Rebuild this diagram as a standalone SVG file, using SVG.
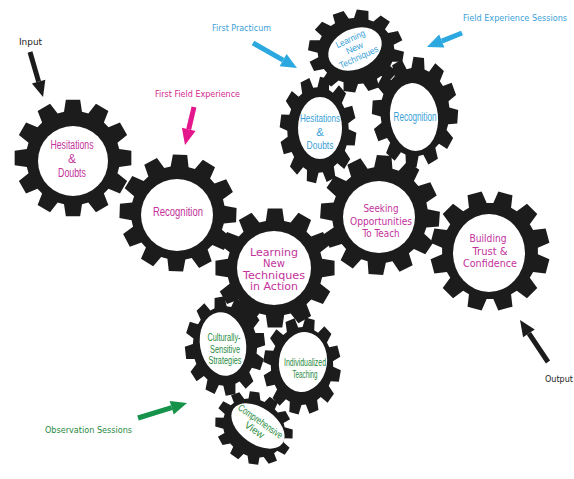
<svg xmlns="http://www.w3.org/2000/svg" xmlns:xlink="http://www.w3.org/1999/xlink" width="574" height="479" viewBox="0 0 574 479">
<style>
.gear{fill:#1c1c1c}
.face{fill:#ffffff}
.nar{font-family:"Liberation Sans Narrow","Liberation Sans",Arial,sans-serif;text-anchor:middle}
.ver{font-family:"DejaVu Sans",Verdana,sans-serif;text-anchor:middle}
.lab{font-family:"DejaVu Sans",Verdana,sans-serif;font-size:8.5px}
.pink{fill:#c4329c}
.blue{fill:#3a9fd8}
.green{fill:#1f8a3e}
.arrow{stroke-width:5;fill:none}
</style>
<defs>
<polygon id="g" points="47.12,-9.16 59.55,-7.31 59.55,7.31 47.12,9.16 45.38,15.63 55.23,23.44 47.92,36.11 36.23,31.49 31.49,36.23 36.11,47.92 23.44,55.23 15.63,45.38 9.16,47.12 7.31,59.55 -7.31,59.55 -9.16,47.12 -15.63,45.38 -23.44,55.23 -36.11,47.92 -31.49,36.23 -36.23,31.49 -47.92,36.11 -55.23,23.44 -45.38,15.63 -47.12,9.16 -59.55,7.31 -59.55,-7.31 -47.12,-9.16 -45.38,-15.63 -55.23,-23.44 -47.92,-36.11 -36.23,-31.49 -31.49,-36.23 -36.11,-47.92 -23.44,-55.23 -15.63,-45.38 -9.16,-47.12 -7.31,-59.55 7.31,-59.55 9.16,-47.12 15.63,-45.38 23.44,-55.23 36.11,-47.92 31.49,-36.23 36.23,-31.49 47.92,-36.11 55.23,-23.44 45.38,-15.63"/>
<marker id="mk" markerUnits="userSpaceOnUse" markerWidth="16" markerHeight="14" refX="0" refY="7" orient="auto" overflow="visible"><path d="M0,0 L16,7 L0,14 z" fill="#1c1c1c"/></marker>
<marker id="mm" markerUnits="userSpaceOnUse" markerWidth="16" markerHeight="14" refX="0" refY="7" orient="auto" overflow="visible"><path d="M0,0 L16,7 L0,14 z" fill="#e3168b"/></marker>
<marker id="mb" markerUnits="userSpaceOnUse" markerWidth="16" markerHeight="14" refX="0" refY="7" orient="auto" overflow="visible"><path d="M0,0 L16,7 L0,14 z" fill="#2ba8df"/></marker>
<marker id="mg" markerUnits="userSpaceOnUse" markerWidth="16" markerHeight="14" refX="0" refY="7" orient="auto" overflow="visible"><path d="M0,0 L16,7 L0,14 z" fill="#15934a"/></marker>
</defs>

<g id="blue-learning-new-techniques">
<use xlink:href="#g" class="gear" transform="translate(356,51) scale(0.8,0.69) rotate(8)"/>
<ellipse class="face" cx="355" cy="49" rx="28" ry="20" transform="rotate(-25 355 49)"/>
<g transform="translate(355,49) rotate(-25)" class="nar blue" font-size="9">
<text x="0" y="-8" textLength="31" lengthAdjust="spacingAndGlyphs">Learning</text>
<text x="0" y="2">New</text>
<text x="0" y="12" textLength="42" lengthAdjust="spacingAndGlyphs">Techniques</text>
</g>
</g>

<g id="blue-hesitations-doubts">
<use xlink:href="#g" class="gear" transform="translate(318,130) scale(0.64,0.89) rotate(10)"/>
<ellipse class="face" cx="320" cy="128" rx="22" ry="31"/>
<g class="nar blue" font-size="11.5">
<text x="320" y="122" textLength="40" lengthAdjust="spacingAndGlyphs">Hesitations</text>
<text x="320" y="135.5">&amp;</text>
<text x="320" y="149" textLength="27" lengthAdjust="spacingAndGlyphs">Doubts</text>
</g>
</g>

<g id="blue-recognition">
<use xlink:href="#g" class="gear" transform="translate(415,112) scale(0.72,0.92) rotate(5)"/>
<ellipse class="face" cx="414" cy="117" rx="24" ry="34" transform="rotate(-6 414 117)"/>
<text class="nar blue" font-size="12" x="415" y="121" textLength="43" lengthAdjust="spacingAndGlyphs">Recognition</text>
</g>

<g id="pink-hesitations-doubts">
<use xlink:href="#g" class="gear" transform="translate(73,158) scale(0.98)"/>
<circle class="face" cx="73" cy="161" r="35"/>
<g class="nar pink" font-size="12">
<text x="72" y="149" textLength="43" lengthAdjust="spacingAndGlyphs">Hesitations</text>
<text x="72" y="163">&amp;</text>
<text x="72" y="177" textLength="28" lengthAdjust="spacingAndGlyphs">Doubts</text>
</g>
</g>

<g id="pink-recognition">
<use xlink:href="#g" class="gear" transform="translate(178,213) scale(0.98) rotate(2)"/>
<circle class="face" cx="177" cy="215" r="36"/>
<text class="nar pink" font-size="13" x="178" y="216" textLength="50" lengthAdjust="spacingAndGlyphs">Recognition</text>
</g>

<g id="seeking-opportunities">
<use xlink:href="#g" class="gear" transform="translate(380,215) rotate(4)"/>
<circle class="face" cx="379" cy="217" r="36"/>
<g class="ver pink" font-size="10">
<text x="381" y="212" textLength="35" lengthAdjust="spacingAndGlyphs">Seeking</text>
<text x="381" y="225" textLength="62" lengthAdjust="spacingAndGlyphs">Opportunities</text>
<text x="381" y="237" textLength="37" lengthAdjust="spacingAndGlyphs">To Teach</text>
</g>
</g>

<g id="building-trust">
<use xlink:href="#g" class="gear" transform="translate(490,251) rotate(15)"/>
<ellipse class="face" cx="489" cy="253" rx="36" ry="39"/>
<g class="ver pink" font-size="10.5">
<text x="488" y="242" textLength="37" lengthAdjust="spacingAndGlyphs">Building</text>
<text x="490" y="255" textLength="35" lengthAdjust="spacingAndGlyphs">Trust &amp;</text>
<text x="490" y="267" textLength="54" lengthAdjust="spacingAndGlyphs">Confidence</text>
</g>
</g>

<g id="green-culturally-sensitive">
<use xlink:href="#g" class="gear" transform="translate(225,346) scale(0.67,0.83) rotate(-8)"/>
<ellipse class="face" cx="223" cy="344" rx="23" ry="32" transform="rotate(-10 223 344)"/>
<g class="nar green" font-size="10.5">
<text x="224" y="341" textLength="33" lengthAdjust="spacingAndGlyphs">Culturally-</text>
<text x="225" y="352.5" textLength="30" lengthAdjust="spacingAndGlyphs">Sensitive</text>
<text x="225" y="364" textLength="33" lengthAdjust="spacingAndGlyphs">Strategies</text>
</g>
</g>

<g id="green-individualized">
<use xlink:href="#g" class="gear" transform="translate(302,366) scale(0.65,0.81) rotate(12)"/>
<ellipse class="face" cx="303" cy="362" rx="24" ry="30" transform="rotate(8 303 362)"/>
<g class="nar green" font-size="10.5">
<text x="305" y="366" textLength="42" lengthAdjust="spacingAndGlyphs">Individualized</text>
<text x="305" y="377.5" textLength="25" lengthAdjust="spacingAndGlyphs">Teaching</text>
</g>
</g>

<g id="green-comprehensive">
<use xlink:href="#g" class="gear" transform="translate(254,428) rotate(35) scale(0.68,0.58)"/>
<ellipse class="face" cx="258" cy="426" rx="30" ry="18" transform="rotate(35 258 426)"/>
<g transform="translate(258,425) rotate(35)" class="nar green" font-size="10">
<text x="0" y="-1" textLength="52" lengthAdjust="spacingAndGlyphs">Comprehensive</text>
<text x="0" y="9.5">View</text>
</g>
</g>

<g id="learning-in-action">
<use xlink:href="#g" class="gear" transform="translate(275,268)"/>
<circle class="face" cx="274" cy="268" r="37"/>
<g class="ver pink" font-size="10">
<text x="274" y="255.5" textLength="48" lengthAdjust="spacingAndGlyphs">Learning</text>
<text x="274" y="267">New</text>
<text x="274" y="278.5" textLength="62" lengthAdjust="spacingAndGlyphs">Techniques</text>
<text x="274" y="290" textLength="48" lengthAdjust="spacingAndGlyphs">in Action</text>
</g>
</g>

<g id="connectors">
<line class="arrow" x1="30" y1="52" x2="38.6" y2="81.6" stroke="#1c1c1c" marker-end="url(#mk)"/>
<line class="arrow" x1="194" y1="107" x2="188.7" y2="129.4" stroke="#e3168b" marker-end="url(#mm)"/>
<line class="arrow" x1="253" y1="43" x2="283.1" y2="60.1" stroke="#2ba8df" marker-end="url(#mb)"/>
<line class="arrow" x1="462" y1="33" x2="441.8" y2="41.1" stroke="#2ba8df" marker-end="url(#mb)"/>
<line class="arrow" x1="138" y1="418" x2="171.7" y2="407.7" stroke="#15934a" marker-end="url(#mg)"/>
<line class="arrow" x1="548" y1="362" x2="528.9" y2="333.3" stroke="#1c1c1c" marker-end="url(#mk)"/>
</g>

<g id="labels">
<text class="lab" x="19" y="45" fill="#1c1c1c" textLength="23" lengthAdjust="spacingAndGlyphs">Input</text>
<text class="lab" x="155" y="97" fill="#d42a8e" textLength="85" lengthAdjust="spacingAndGlyphs">First Field Experience</text>
<text class="lab" x="212" y="31" fill="#3a9fd8" textLength="59" lengthAdjust="spacingAndGlyphs">First Practicum</text>
<text class="lab" x="463" y="21" fill="#3a9fd8" textLength="104" lengthAdjust="spacingAndGlyphs">Field Experience Sessions</text>
<text class="lab" x="545" y="382" fill="#1c1c1c" textLength="28" lengthAdjust="spacingAndGlyphs">Output</text>
<text class="lab" x="45" y="433" fill="#1f8a3e" textLength="87" lengthAdjust="spacingAndGlyphs">Observation Sessions</text>
</g>
</svg>
